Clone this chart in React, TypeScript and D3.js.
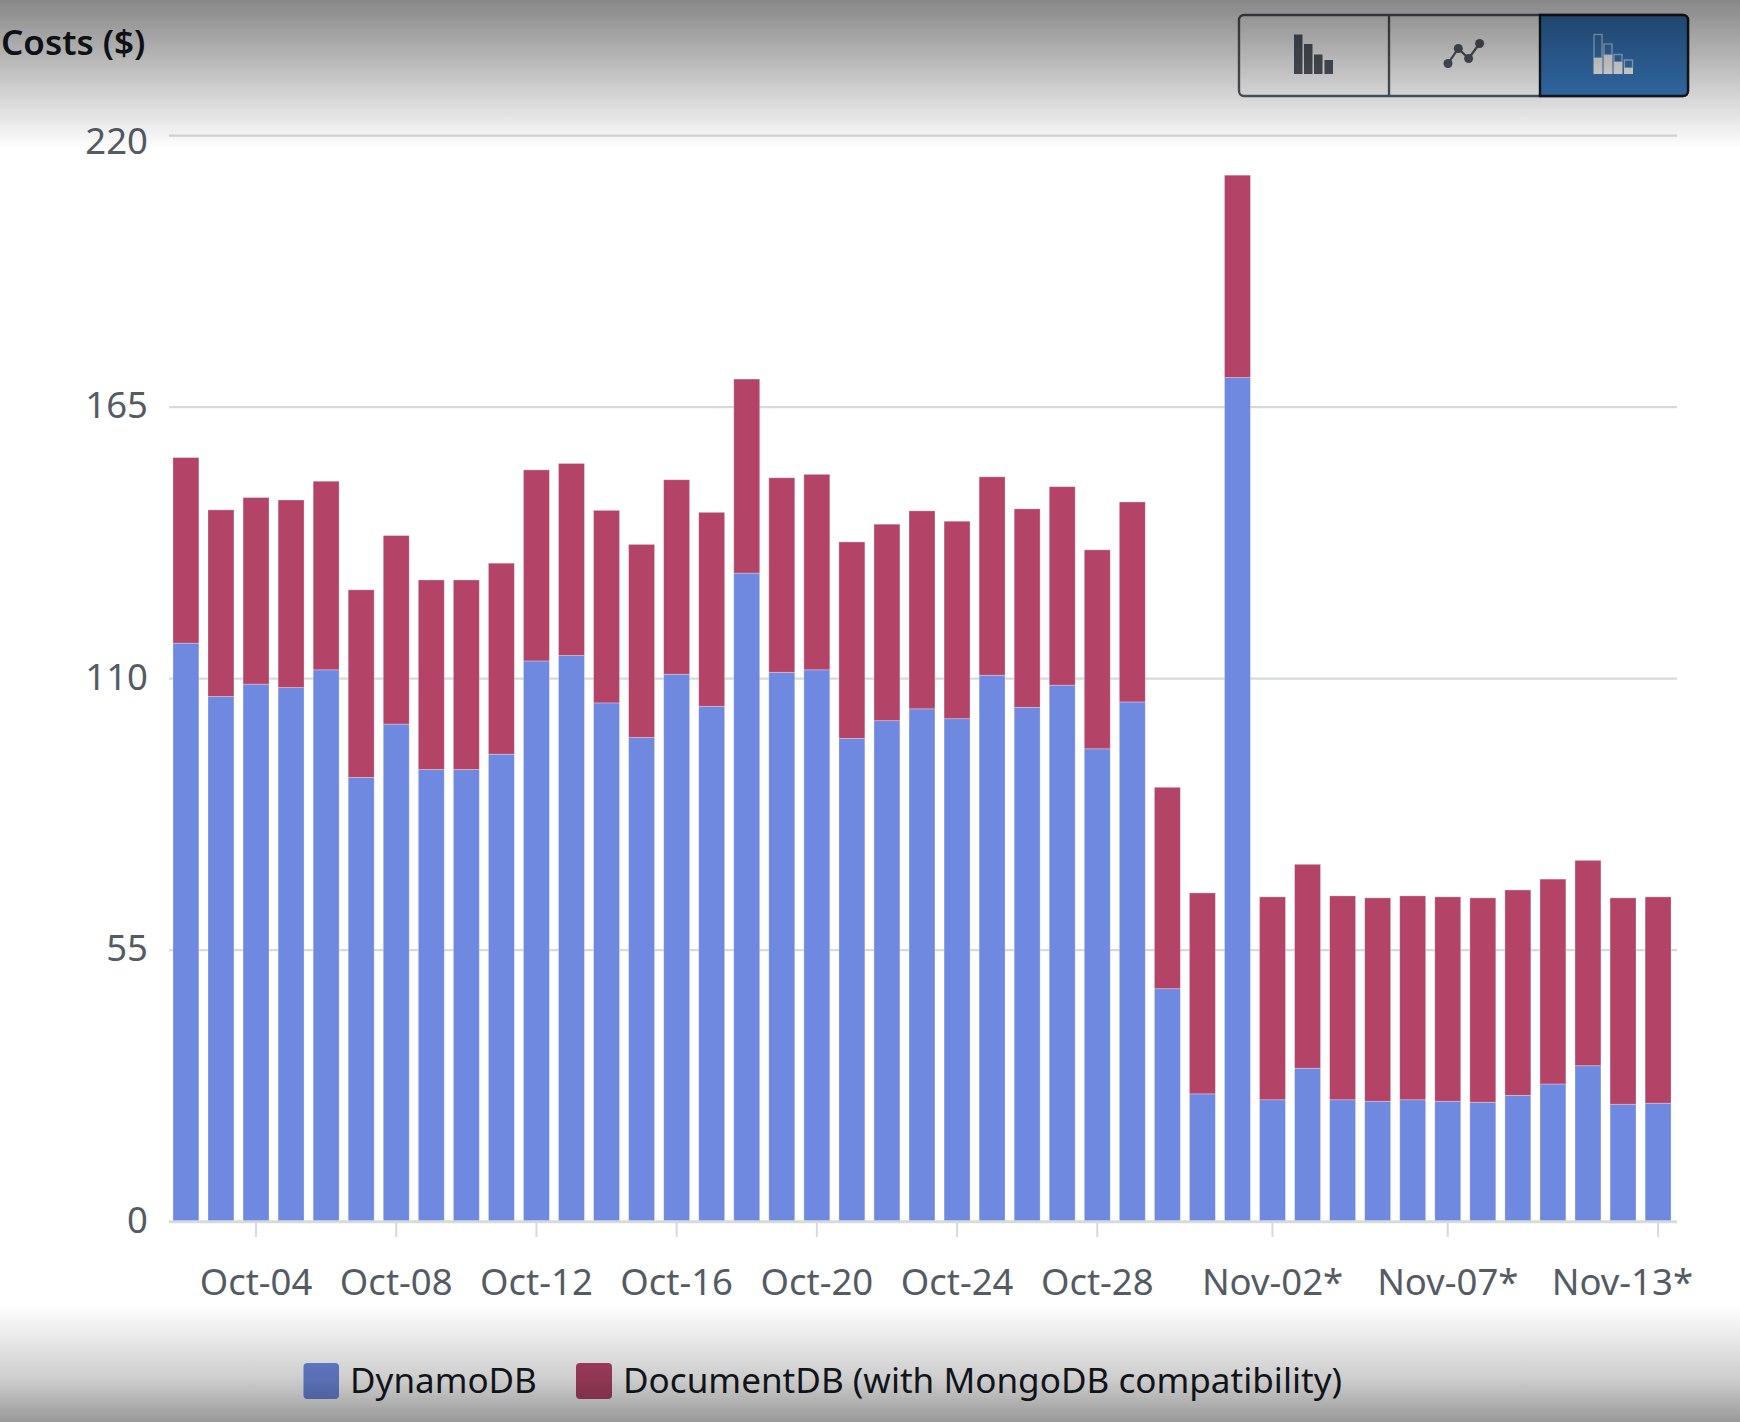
import React from "react";
import * as d3 from "d3";

const categories = [
  "Oct-02","Oct-03","Oct-04","Oct-05","Oct-06","Oct-07","Oct-08","Oct-09","Oct-10","Oct-11",
  "Oct-12","Oct-13","Oct-14","Oct-15","Oct-16","Oct-17","Oct-18","Oct-19","Oct-20","Oct-21",
  "Oct-22","Oct-23","Oct-24","Oct-25","Oct-26","Oct-27","Oct-28","Oct-29","Oct-30","Oct-31",
  "Nov-01*","Nov-02*","Nov-03*","Nov-04*","Nov-05*","Nov-06*","Nov-07*","Nov-08*","Nov-09*",
  "Nov-10*","Nov-11*","Nov-12*","Nov-13*",
];
const dynamoDB = [
  117.2,106.4,108.9,108.2,111.8,90.0,100.8,91.6,91.6,94.7,113.6,114.7,105.1,98.1,110.9,104.4,
  131.4,111.3,111.8,97.9,101.5,103.9,101.9,110.7,104.2,108.7,95.8,105.3,47.2,25.9,171.0,24.7,
  31.1,24.7,24.4,24.7,24.4,24.2,25.6,27.9,31.6,23.8,24.0,
];
const documentDB = [
  37.6,37.8,37.8,38.0,38.2,38.0,38.2,38.4,38.4,38.7,38.7,38.9,39.0,39.1,39.4,39.3,39.3,39.4,
  39.6,39.8,39.8,40.1,40.0,40.2,40.2,40.2,40.3,40.5,40.8,40.7,41.0,41.1,41.3,41.3,41.2,41.3,
  41.4,41.4,41.6,41.5,41.6,41.8,41.8,
];
const xTickLabels = ["Oct-04","Oct-08","Oct-12","Oct-16","Oct-20","Oct-24","Oct-28","Nov-02*","Nov-07*","Nov-13*"];
const yTicks = [0, 55, 110, 165, 220];
const seriesNames = ["DynamoDB", "DocumentDB (with MongoDB compatibility)"];
const seriesColors = ["#6f89e0", "#b34468"];

const W = 1740, H = 1422;
const FONT = "'Noto Sans', 'Open Sans', sans-serif";
const INK = "#545b64";
const GRID = "#d5dbdb";

const x = d3.scaleBand<string>().domain(categories).range([168.4, 1675.6]).paddingInner(0.26).paddingOuter(0.13);
const y = d3.scaleLinear().domain([0, 220]).range([1221.7, 135.7]);

const rows = categories.map((c, i) => ({ c, DynamoDB: dynamoDB[i], DocumentDB: documentDB[i] }));
const stacked = d3.stack<any>().keys(["DynamoDB", "DocumentDB"])(rows);

const barIcon: [number, number][] = [[1294, 34.5], [1304, 44], [1314, 54.5], [1324.5, 60]];
const stackIcon: [number, number, number][] = [[1594, 34.5, 58], [1604, 44, 55], [1614, 54.5, 62], [1624.5, 60, 68]];
const lineIcon = [[1448, 63.5], [1458.3, 48.5], [1468.6, 58.5], [1479.6, 43.5]];

export default function App() {
  return (
    <svg width={W} height={H} viewBox={`0 0 ${W} ${H}`} style={{ position: "absolute", left: 0, top: 0, background: "#fff" }} fontFamily={FONT}>
      <defs>
        <linearGradient id="topShade" x1="0" y1="0" x2="0" y2="1">
          <stop offset="0" stopColor="#000" stopOpacity={0.47} />
          <stop offset="1" stopColor="#000" stopOpacity={0.005} />
        </linearGradient>
        <linearGradient id="botShade" x1="0" y1="0" x2="0" y2="1">
          <stop offset="0" stopColor="#000" stopOpacity={0.0} />
          <stop offset="0.64" stopColor="#000" stopOpacity={0.2} />
          <stop offset="1" stopColor="#000" stopOpacity={0.4} />
        </linearGradient>
      </defs>

      {yTicks.filter(t => t > 0).map(t => (
        <line key={t} x1={169} x2={1677} y1={y(t)} y2={y(t)} stroke={GRID} strokeWidth={2.2} />
      ))}
      {xTickLabels.map(l => {
        const c = x(l)! + x.bandwidth() / 2;
        return <line key={l} x1={c} x2={c} y1={y(0)} y2={1237} stroke={GRID} strokeWidth={2} />;
      })}

      {stacked.map((s, si) => (
        <g key={si} fill={seriesColors[si]} stroke="#fff" strokeOpacity={0.35} strokeWidth={0.8}>
          {s.map((d, i) => (
            <rect key={i} x={x(categories[i])} width={x.bandwidth()} y={y(d[1])} height={y(d[0]) - y(d[1])} />
          ))}
        </g>
      ))}
      <line x1={169} x2={1677} y1={y(0)} y2={y(0)} stroke={GRID} strokeWidth={3} />

      {yTicks.map(t => (
        <text key={t} x={148} y={y(t) + (t === 220 ? 18 : 11)} textAnchor="end" fontSize={36.5} fill={INK}>{t}</text>
      ))}
      {xTickLabels.map((l, i) => {
        const c = x(l)! + x.bandwidth() / 2;
        const last = i === xTickLabels.length - 1;
        return <text key={l} x={last ? 1693 : c} y={1295} textAnchor={last ? "end" : "middle"} fontSize={36.5} fill={INK}>{l}</text>;
      })}

      <text x={1} y={55} fontSize={35} fontWeight={600} fill="#16191f">Costs ($)</text>

      <g>
        <rect x={1239} y={15} width={449} height={81} rx={5} fill="#fff" stroke="#545b64" strokeWidth={2.4} />
        <line x1={1389} x2={1389} y1={15} y2={96} stroke="#545b64" strokeWidth={2.4} />
        <path d="M1540 15H1683a5 5 0 0 1 5 5V91a5 5 0 0 1 -5 5H1540Z" fill="#3879be" stroke="#16191f" strokeWidth={2.4} />
        {barIcon.map(([bx, top], i) => <rect key={i} x={bx} y={top} width={8.5} height={74 - top} fill="#545b64" />)}
        <path d={d3.line()(lineIcon as [number, number][]) ?? ""} fill="none" stroke="#545b64" strokeWidth={2.2} />
        {lineIcon.map(([cx, cy], i) => <circle key={i} cx={cx} cy={cy} r={4.5} fill="#545b64" />)}
        {stackIcon.map(([bx, top, mid], i) => (
          <g key={i}>
            <rect x={bx} y={top} width={8} height={mid - top} fill="none" stroke="#fff" strokeOpacity={0.6} strokeWidth={1.4} />
            <rect x={bx - 0.5} y={mid} width={9} height={74 - mid} fill="#fff" />
          </g>
        ))}
      </g>

      <rect x={303.5} y={1363} width={35.5} height={36} rx={4} fill={seriesColors[0]} />
      <text x={350} y={1393} fontSize={35} fill="#16191f">{seriesNames[0]}</text>
      <rect x={576} y={1363} width={36} height={36} rx={4} fill={seriesColors[1]} />
      <text x={623} y={1393} fontSize={35.1} fill="#16191f">{seriesNames[1]}</text>

      <rect x={0} y={0} width={W} height={148} fill="url(#topShade)" />
      <rect x={0} y={1305} width={W} height={117} fill="url(#botShade)" />
    </svg>
  );
}
